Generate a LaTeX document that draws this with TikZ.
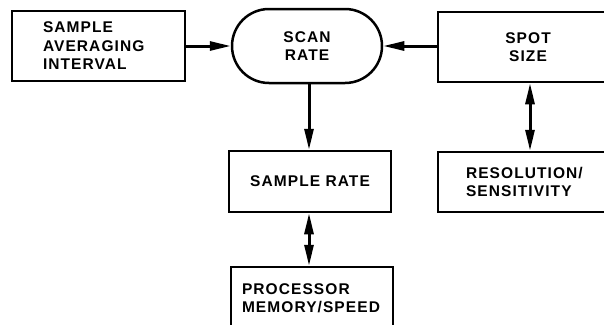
\documentclass[tikz,border=0pt]{standalone}
\usepackage{fontspec}
\setmainfont{Liberation Sans}[LetterSpace=7]
\usetikzlibrary{arrows.meta,shapes.misc}
\begin{document}
\begin{tikzpicture}[x=1pt,y=-1pt,
  font=\fontsize{15.5}{18.5}\selectfont\bfseries,
  blk/.style={draw=black,line width=2.5pt,rectangle,inner sep=0pt},
  pill/.style={draw=black,line width=2.5pt,rounded rectangle,inner sep=0pt},
  tip/.tip={Triangle[length=21pt,width=9pt]},
  link/.style={line width=3pt,-tip},
  dlink/.style={line width=3pt,tip-tip}]
  \useasboundingbox (0,0) rectangle (604,324);
  \clip (0,0) rectangle (604,324);
  % top row
  \node[blk,minimum width=173pt,minimum height=70pt,text width=111pt,align=left]
    (avg) at (98.5,46) {SAMPLE\\AVERAGING\\INTERVAL};
  \node[pill,minimum width=150pt,minimum height=74pt,align=center]
    (scan) at (307,46) {SCAN\\RATE};
  \node[blk,minimum width=180pt,minimum height=70pt,align=center]
    (spot) at (528,47) {SPOT\\SIZE};
  % middle row
  \node[blk,minimum width=162pt,minimum height=61pt]
    (srate) at (310,181.5) {SAMPLE RATE};
  \node[blk,minimum width=174pt,minimum height=60pt,text width=118pt,align=left]
    (res) at (525,182) {RESOLUTION/\\SENSITIVITY};
  % bottom row
  \node[blk,minimum width=162pt,minimum height=62pt,text width=140pt,align=left]
    (proc) at (312,298) {PROCESSOR\\MEMORY/SPEED};
  % connectors
  \draw[link] (avg.east) -- (scan.west);
  \draw[link] (spot.west |- scan.east) -- (scan.east);
  \draw[link] (scan.south -| 309,0) -- (srate.north -| 309,0);
  \draw[dlink] (spot.south -| 530,0) -- (res.north -| 530,0);
  \draw[dlink] (srate.south -| 309,0) -- (proc.north -| 309,0);
\end{tikzpicture}
\end{document}
